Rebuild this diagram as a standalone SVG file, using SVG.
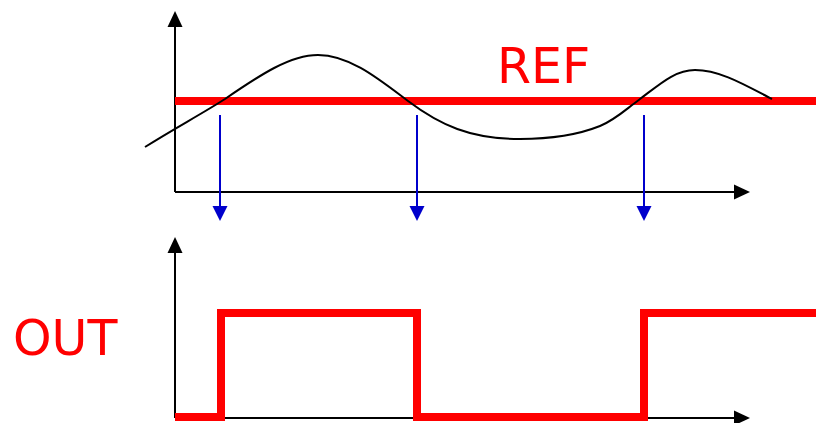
<svg xmlns="http://www.w3.org/2000/svg" width="816" height="423" viewBox="0 0 816 423">
<style>
.axis{stroke:#000;stroke-width:2;fill:none}
.head{fill:#000}
.probe{stroke:#0000cc;stroke-width:2;fill:none}
.phead{fill:#0000cc}
.sig{stroke:#ff0000;stroke-width:8;fill:none}
.lbl{font-family:"DejaVu Sans",Verdana,sans-serif;font-size:49px;fill:#ff0000}
</style>
<rect width="816" height="423" fill="#fff"/>
<g id="top-axes">
<line class="axis" x1="175" y1="192" x2="175" y2="24"/>
<polygon class="head" points="175,11 167.5,27 182.5,27"/>
<line class="axis" x1="175" y1="192" x2="737" y2="192"/>
<polygon class="head" points="750,192 734,184.5 734,199.5"/>
</g>
<g id="ref-line">
<line class="sig" x1="175" y1="101" x2="816" y2="101" stroke-width="9"/>
</g>
<g id="input-signal">
<path d="M145,147 C175,128 200,115 225,99 C260,75 290,55 318,55 C350,55 380,80 408,101 C440,125 470,139 520,139 C555,139 580,134 600,126 C615,120 625,110 640,99 C660,84 675,70 695,70 C720,70 745,85 772,99" fill="none" stroke="#000" stroke-width="2"/>
</g>
<g id="ref-label"><text class="lbl" x="497" y="83">REF</text></g>
<g id="connectors">
<line class="probe" x1="220" y1="115" x2="220" y2="208"/>
<polygon class="phead" points="220,221 212.5,206 227.5,206"/>
<line class="probe" x1="417" y1="115" x2="417" y2="208"/>
<polygon class="phead" points="417,221 409.5,206 424.5,206"/>
<line class="probe" x1="644" y1="115" x2="644" y2="208"/>
<polygon class="phead" points="644,221 636.5,206 651.5,206"/>
</g>
<g id="bottom-axes">
<line class="axis" x1="175" y1="418" x2="175" y2="250"/>
<polygon class="head" points="175,237 167.5,253 182.5,253"/>
<line class="axis" x1="175" y1="418" x2="737" y2="418"/>
<polygon class="head" points="750,418 734,410.5 734,425.5"/>
</g>
<g id="out-signal">
<path class="sig" d="M175,417 H221 V313 H417 V417 H644 V313 H816"/>
</g>
<g id="out-label"><text class="lbl" x="13" y="355">OUT</text></g>
</svg>
